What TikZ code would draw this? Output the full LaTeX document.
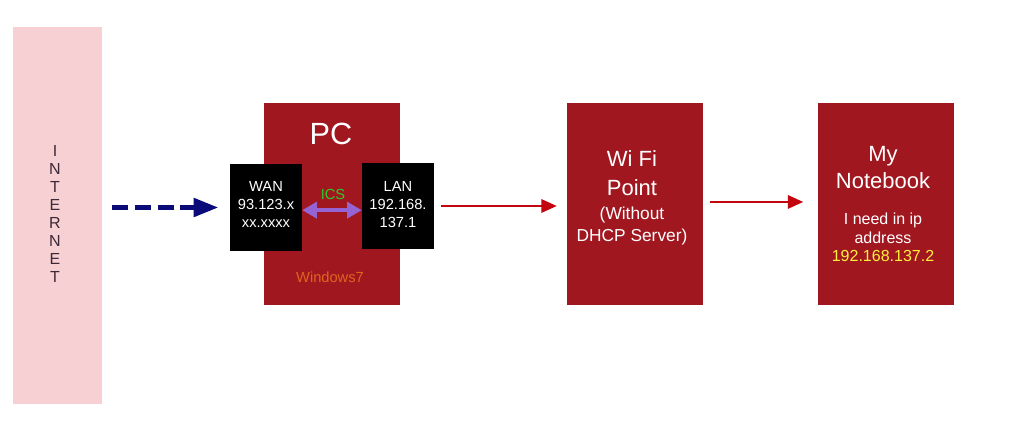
\documentclass[tikz,border=0pt]{standalone}
\usepackage{fontspec}
\setmainfont{Liberation Sans}
\usetikzlibrary{arrows.meta}

\definecolor{boxred}{RGB}{161,23,32}
\definecolor{netpink}{RGB}{246,208,210}
\definecolor{navyarrow}{RGB}{10,10,120}
\definecolor{linkred}{RGB}{195,5,15}
\definecolor{icspurple}{RGB}{150,100,210}
\definecolor{icsgreen}{RGB}{40,205,40}
\definecolor{winorange}{RGB}{225,100,30}
\definecolor{ipyellow}{RGB}{255,240,60}

\begin{document}
\begin{tikzpicture}[x=0.75pt,y=0.75pt,yscale=-1,xscale=1,
  redbox/.style={fill=boxred,draw=none,inner sep=0,minimum width=102pt,minimum height=151.5pt},
  portbox/.style={fill=black,draw=none,inner sep=0,minimum width=54pt,minimum height=65pt},
  whitetext/.style={text=white,inner sep=0,align=center,anchor=north},
  linkarrow/.style={draw=linkred,line width=1.5pt,-{Triangle[length=11.5pt,width=10pt]}}]
%Background
\fill[white] (0,0) rectangle (1016,441);
\useasboundingbox (0,0) rectangle (1016,441);

%Internet column
\node[fill=netpink,draw=none,inner sep=0,minimum width=66.75pt,minimum height=282.75pt] (inet) at (57.5,215.5) {};
\node[inner sep=0,align=center,anchor=north,text={rgb,255:red,60;green,40;blue,55},
  font=\fontsize{12pt}{13.5pt}\selectfont] (inettext) at (55,145) {I\\N\\T\\E\\R\\N\\E\\T};

%PC
\node[redbox] (pc) at (332,204) {};
\node[whitetext,font=\fontsize{23pt}{27pt}\selectfont] (pctitle) at (331,123) {PC};
\node[portbox] (wan) at (266,207.5) {};
\node[whitetext,font=\fontsize{11pt}{13.5pt}\selectfont] (wantext) at (266,181) {WAN\\93.123.x\\xx.xxxx};
\node[portbox] (lan) at (398,206) {};
\node[whitetext,font=\fontsize{11pt}{13.5pt}\selectfont] (lantext) at (398,181) {LAN\\192.168.\\137.1};
\node[inner sep=0,anchor=north,text=icsgreen,font=\fontsize{11pt}{13pt}\selectfont] (ics) at (333,189) {ICS};
\node[inner sep=0,anchor=north,text=winorange,font=\fontsize{11pt}{13pt}\selectfont] (win) at (330,272) {Windows7};

%Wi Fi point
\node[redbox] (wifi) at (635,204.5) {};
\node[whitetext,font=\fontsize{16.5pt}{21.75pt}\selectfont] (wifititle) at (632,150) {Wi Fi\\Point};
\node[whitetext,font=\fontsize{13pt}{16.5pt}\selectfont] (wifisub) at (632,207) {(Without\\DHCP Server)};

%Notebook
\node[redbox] (note) at (885.5,204) {};
\node[whitetext,font=\fontsize{16.5pt}{20.25pt}\selectfont] (notetitle) at (883,146) {My\\Notebook};
\node[whitetext,font=\fontsize{12pt}{13.9pt}\selectfont] (notesub) at (883,213) {I need in ip\\address\\\textcolor{ipyellow}{192.168.137.2}};

%Connectors
\draw[draw=navyarrow,line width=3.75pt,dash pattern=on 12pt off 5pt,
  -{Triangle[length=18.5pt,width=13.5pt]},shorten <=7.5pt,shorten >=8.5pt] (inet.east |- wan.west) -- (wan.west);
\draw[draw=icspurple,line width=3pt,{Triangle[length=11pt,width=12pt]}-{Triangle[length=11pt,width=12pt]}]
  ([yshift=2pt]wan.east) -- ([yshift=2pt]wan.east -| lan.west);
\draw[linkarrow,shorten <=5.25pt,shorten >=7.5pt] (lan.east) -- (wifi.west |- lan.east);
\draw[linkarrow,shorten <=5.25pt,shorten >=10.5pt] ([yshift=-1.9pt]wifi.east) -- ([yshift=-1.9pt]wifi.east -| note.west);
\end{tikzpicture}
\end{document}
